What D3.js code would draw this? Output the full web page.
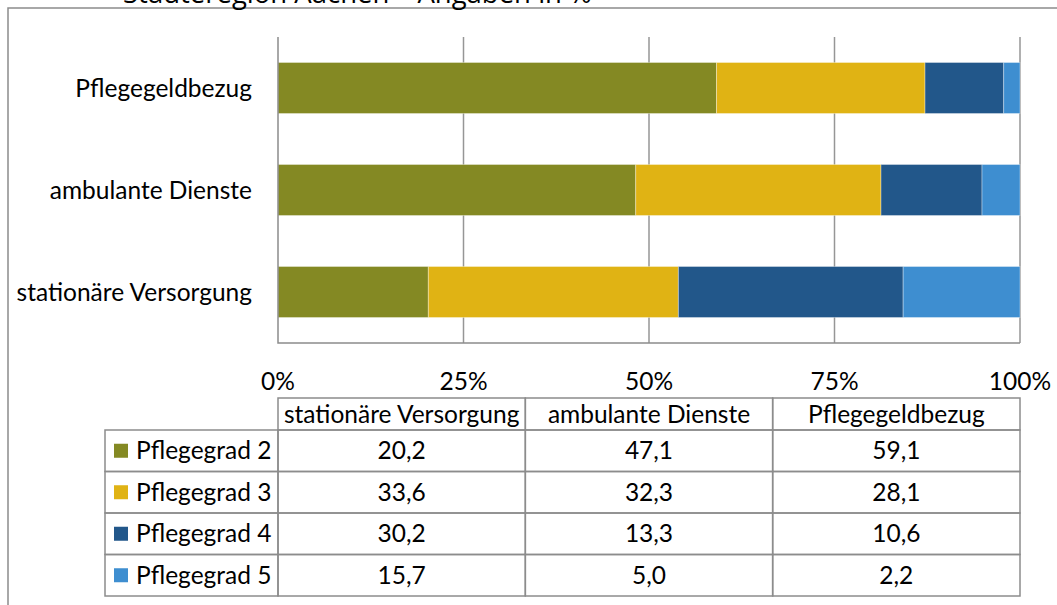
<!DOCTYPE html>
<html><head><meta charset="utf-8">
<script src="https://cdn.jsdelivr.net/npm/d3@7"></script>
<style>
html,body{margin:0;padding:0;background:#fff;}
svg{display:block;}
text{font-family:Lato,"Open Sans",sans-serif;fill:#000;}
</style></head>
<body>
<svg id="chart" width="1057" height="605"></svg>
<script>
const title = "Städteregion Aachen – Angaben in %";
const categories = ["stationäre Versorgung", "ambulante Dienste", "Pflegegeldbezug"];
const seriesNames = ["Pflegegrad 2", "Pflegegrad 3", "Pflegegrad 4", "Pflegegrad 5"];
const pflegegrad2 = [20.2, 47.1, 59.1];
const pflegegrad3 = [33.6, 32.3, 28.1];
const pflegegrad4 = [30.2, 13.3, 10.6];
const pflegegrad5 = [15.7, 5.0, 2.2];
const colors = ["#848923", "#E0B314", "#22578A", "#3E8ED0"];
const tickValues = [0, 0.25, 0.5, 0.75, 1];

const seriesValues = [pflegegrad2, pflegegrad3, pflegegrad4, pflegegrad5];
const rows = categories.map((c, i) => {
  const o = {cat: c};
  seriesNames.forEach((s, j) => o[s] = seriesValues[j][i]);
  return o;
});

const FS = 24.5;
const svg = d3.select("#chart");
const pLeft = 278, pRight = 1020, pTop = 37, pBottom = 343;

// outer frame (partially visible)
svg.append("path").attr("d", "M8,605 L8,8 L1057,8").attr("fill", "none")
  .attr("stroke", "#8c8c8c").attr("stroke-width", 1.5);
svg.append("text").attr("x", 123).attr("y", 3).attr("font-size", 27.5)
  .style("font-family", "'Open Sans',sans-serif").text(title);

const x = d3.scaleLinear().domain([0, 1]).range([pLeft, pRight]);
const y = d3.scaleBand().domain(categories.slice().reverse()).range([pTop, pBottom]).paddingInner(0.5).paddingOuter(0.25);

// gridlines
svg.append("g").selectAll("line").data(tickValues.slice(1)).join("line")
  .attr("x1", d => x(d)).attr("x2", d => x(d)).attr("y1", pTop).attr("y2", pBottom)
  .attr("stroke", "#969696").attr("stroke-width", 1.5);

const stack = d3.stack().keys(seriesNames).offset(d3.stackOffsetExpand);
const stacked = stack(rows);
svg.append("g").selectAll("g").data(stacked).join("g")
  .attr("fill", (d, i) => colors[i])
  .selectAll("rect").data(d => d).join("rect")
  .attr("x", d => x(d[0])).attr("width", d => x(d[1]) - x(d[0]))
  .attr("y", d => y(d.data.cat)).attr("height", y.bandwidth())
  .attr("stroke", "rgba(255,255,255,0.35)").attr("stroke-width", 1);

// axes lines
svg.append("path").attr("d", `M${pLeft},${pTop} L${pLeft},${pBottom} L${pRight},${pBottom}`)
  .attr("fill", "none").attr("stroke", "#8c8c8c").attr("stroke-width", 1.5);

// category labels
svg.append("g").selectAll("text").data(categories).join("text")
  .attr("x", 252).attr("y", d => y(d) + y.bandwidth() / 2)
  .attr("dy", "0.35em").attr("text-anchor", "end").attr("font-size", FS).text(d => d);

// tick labels
const fmt = d3.format(".0%");
svg.append("g").selectAll("text").data(tickValues).join("text")
  .attr("x", d => x(d)).attr("y", 381).attr("dy", "0.35em")
  .attr("text-anchor", "middle").attr("font-size", FS).text(d => fmt(d));

// data table
const colW = (pRight - pLeft) / categories.length;
const hdrTop = 398, hdrBot = 430, rowH = 41.5, legLeft = 105;
const tbl = svg.append("g");
const lineColor = "#8c8c8c";
categories.forEach((c, i) => {
  tbl.append("rect").attr("x", pLeft + i * colW).attr("y", hdrTop).attr("width", colW).attr("height", hdrBot - hdrTop)
    .attr("fill", "none").attr("stroke", lineColor).attr("stroke-width", 1.5);
  tbl.append("text").attr("x", pLeft + i * colW + colW / 2).attr("y", (hdrTop + hdrBot) / 2).attr("dy", "0.35em")
    .attr("text-anchor", "middle").attr("font-size", FS).text(c);
});
const nf = d3.formatLocale({decimal: ",", thousands: ".", grouping: [3], currency: ["", "€"]}).format(".1f");
seriesNames.forEach((s, j) => {
  const ry = hdrBot + j * rowH;
  tbl.append("rect").attr("x", legLeft).attr("y", ry).attr("width", pLeft - legLeft).attr("height", rowH)
    .attr("fill", "none").attr("stroke", lineColor).attr("stroke-width", 1.5);
  tbl.append("rect").attr("x", 114).attr("y", ry + rowH / 2 - 7).attr("width", 14).attr("height", 14).attr("fill", colors[j]);
  tbl.append("text").attr("x", 136).attr("y", ry + rowH / 2).attr("dy", "0.35em").attr("font-size", FS).text(s);
  categories.forEach((c, i) => {
    tbl.append("rect").attr("x", pLeft + i * colW).attr("y", ry).attr("width", colW).attr("height", rowH)
      .attr("fill", "none").attr("stroke", lineColor).attr("stroke-width", 1.5);
    tbl.append("text").attr("x", pLeft + i * colW + colW / 2).attr("y", ry + rowH / 2).attr("dy", "0.35em")
      .attr("text-anchor", "middle").attr("font-size", FS).text(nf(seriesValues[j][i]));
  });
});
</script>
</body></html>
